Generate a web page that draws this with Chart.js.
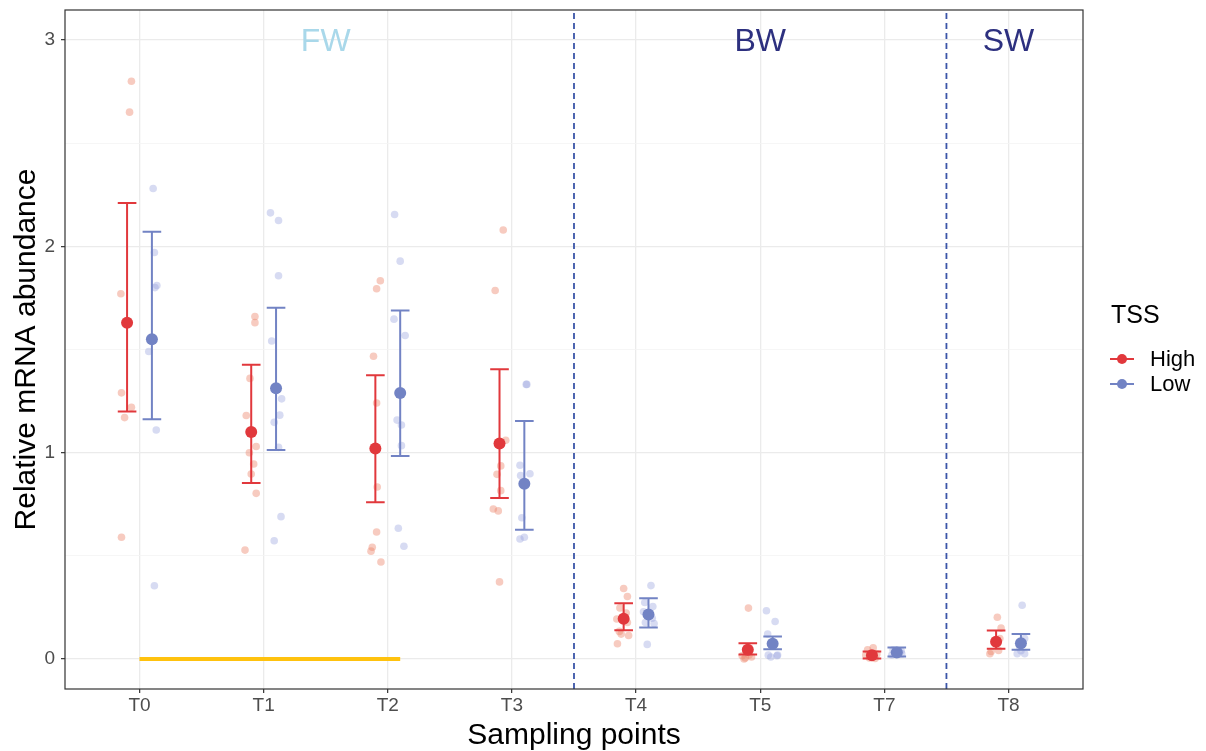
<!DOCTYPE html>
<html>
<head>
<meta charset="utf-8">
<script src="https://cdn.jsdelivr.net/npm/chart.js@4.4.1/dist/chart.umd.min.js"></script>
<style>
  html, body { margin: 0; padding: 0; background: #fff; }
  #wrap { width: 1206px; height: 751px; }
</style>
</head>
<body>
<div id="wrap"><canvas id="chart" width="1206" height="751"></canvas></div>
<script>
// ---- data ----
const categories = ['T0', 'T1', 'T2', 'T3', 'T4', 'T5', 'T7', 'T8'];
const groups = ['High', 'Low'];

const highMean  = [1.63, 1.10, 1.02, 1.045, 0.195, 0.045, 0.019, 0.084];
const highLower = [1.20, 0.853, 0.76, 0.781, 0.140, 0.022, 0.003, 0.050];
const highUpper = [2.21, 1.426, 1.375, 1.404, 0.271, 0.077, 0.037, 0.138];

const lowMean  = [1.55, 1.312, 1.289, 0.85, 0.216, 0.074, 0.032, 0.077];
const lowLower = [1.162, 1.013, 0.984, 0.627, 0.153, 0.048, 0.013, 0.045];
const lowUpper = [2.07, 1.702, 1.689, 1.153, 0.295, 0.109, 0.056, 0.121];

// individual samples, per sampling point
const highRaw = [
    [2.80, 2.65, 1.77, 1.29, 1.22, 1.17, 0.59],
    [1.66, 1.63, 1.36, 1.18, 1.10, 1.03, 1.00, 0.945, 0.897, 0.803, 0.528],
    [1.833, 1.794, 1.467, 1.241, 0.834, 0.616, 0.542, 0.523, 0.47],
    [2.079, 1.786, 1.06, 0.936, 0.895, 0.816, 0.727, 0.718, 0.374],
    [0.342, 0.303, 0.248, 0.223, 0.194, 0.177, 0.134, 0.114, 0.121, 0.074],
    [0.247, 0.02, 0.016, 0.01, 0.005, 0.0],
    [0.055, 0.045, 0.025, 0.02, 0.01, 0.005, 0.003],
    [0.203, 0.15, 0.1, 0.042, 0.037, 0.026]
];
const highJitter = [
    [0.035, 0.02, -0.05, -0.045, 0.035, -0.02, -0.045],
    [0.03, 0.03, -0.01, -0.04, 0, 0.04, -0.015, 0.02, 0, 0.04, -0.05],
    [0.04, 0.01, -0.015, 0.01, 0.015, 0.01, -0.025, -0.035, 0.045],
    [0.03, -0.035, 0.05, 0.01, -0.02, 0.01, -0.05, -0.01, 0],
    [0, 0.03, -0.03, 0.02, -0.055, 0.03, -0.035, 0.04, -0.02, -0.05],
    [0.005, 0.01, -0.045, 0.03, -0.02, -0.03],
    [0.01, -0.035, 0.04, -0.05, 0, -0.02, 0.025],
    [0.01, 0.04, 0.03, 0.02, -0.04, -0.05]
];
const lowRaw = [
    [2.28, 1.97, 1.81, 1.80, 1.49, 1.11, 0.355],
    [2.162, 2.125, 1.857, 1.541, 1.261, 1.182, 1.147, 1.026, 0.69, 0.573],
    [2.154, 1.928, 1.647, 1.568, 1.158, 1.134, 1.034, 0.634, 0.547],
    [1.331, 1.331, 0.939, 0.898, 0.889, 0.685, 0.59, 0.582],
    [0.356, 0.274, 0.255, 0.229, 0.198, 0.177, 0.172, 0.071],
    [0.234, 0.182, 0.121, 0.02, 0.019, 0.016, 0.01],
    [0.045, 0.04, 0.035, 0.03, 0.025, 0.02],
    [0.261, 0.1, 0.061, 0.04, 0.026, 0.026]
];
const lowJitter = [
    [0.01, 0.02, 0.04, 0.025, -0.025, 0.035, 0.02],
    [-0.045, 0.02, 0.02, -0.035, 0.045, 0.03, -0.015, 0.02, 0.04, -0.015],
    [-0.045, 0, -0.05, 0.04, -0.025, 0.01, 0.01, -0.015, 0.03],
    [0.015, 0.02, -0.035, 0.045, -0.03, -0.02, 0, -0.035],
    [0.02, -0.03, 0.035, -0.04, 0.03, -0.025, 0.045, -0.01],
    [-0.05, 0.02, -0.04, 0.04, -0.035, 0.035, -0.015],
    [-0.03, 0.035, 0.02, -0.01, 0.04, -0.04],
    [0.01, 0.03, -0.01, 0, -0.03, 0.03]
];

// water zones: first / last sampling point index
const zoneNames = ['FW', 'BW', 'SW'];
const zoneFirst = [0, 4, 7];
const zoneLast  = [3, 6, 7];
const zoneColors = ['#A9D8EA', '#2D307F', '#2D307F'];

// yellow bar at y = 0
const barFrom = 0;
const barTo = 2.1;

const yTicks = [0, 1, 2, 3];

// ---- style ----
const FONT = "'Liberation Sans', Arial, sans-serif";
const RED = '#E1383C';
const BLUE = '#7283C4';
const Y_MIN = -0.145, Y_MAX = 3.145;
const X_MIN = -0.6, X_MAX = categories.length - 0.4;
const DODGE = 0.1;
const CAP = 0.075;

function rawPoints(raw, jitter, shift) {
    const pts = [];
    raw.forEach((vals, i) => vals.forEach((v, k) => pts.push({ x: i + shift + jitter[i][k], y: v })));
    return pts;
}

function meanPoints(means, shift) {
    return means.map((m, i) => ({ x: i + shift, y: m }));
}

function errorBars(lower, upper, shift) {
    const pts = [];
    lower.forEach((lo, i) => {
        const x = i + shift;
        const hi = upper[i];
        pts.push({ x, y: lo }, { x, y: hi }, { x, y: null });
        pts.push({ x: x - CAP, y: hi }, { x: x + CAP, y: hi }, { x, y: null });
        pts.push({ x: x - CAP, y: lo }, { x: x + CAP, y: lo }, { x, y: null });
    });
    return pts;
}

const dividers = [];
zoneLast.slice(0, -1).forEach(last => {
    dividers.push({ x: last + 0.5, y: Y_MIN }, { x: last + 0.5, y: Y_MAX }, { x: last + 0.5, y: null });
});

const overlay = {
    id: 'overlay',
    afterDraw(chart) {
        const { ctx, chartArea, scales } = chart;
        ctx.save();
        // zone labels
        ctx.font = `32px ${FONT}`;
        ctx.textAlign = 'center';
        ctx.textBaseline = 'alphabetic';
        zoneNames.forEach((name, i) => {
            ctx.fillStyle = zoneColors[i];
            const x = scales.x.getPixelForValue((zoneFirst[i] + zoneLast[i]) / 2);
            const y = scales.y.getPixelForValue(3) + 11.5;
            ctx.fillText(name, x, y);
        });

        // panel border
        ctx.strokeStyle = '#333333';
        ctx.lineWidth = 1.2;
        ctx.strokeRect(chartArea.left, chartArea.top, chartArea.right - chartArea.left, chartArea.bottom - chartArea.top);

        // legend
        ctx.fillStyle = '#000';
        ctx.textAlign = 'left';
        ctx.font = `25px ${FONT}`;
        ctx.fillText('TSS', 1111, 323);
        const colors = [RED, BLUE];
        const rows = [359, 384];
        ctx.font = `22px ${FONT}`;
        ctx.textBaseline = 'middle';
        groups.forEach((g, i) => {
            ctx.strokeStyle = colors[i];
            ctx.lineWidth = 2;
            ctx.beginPath();
            ctx.moveTo(1110, rows[i]);
            ctx.lineTo(1134, rows[i]);
            ctx.stroke();
            ctx.fillStyle = colors[i];
            ctx.beginPath();
            ctx.arc(1122, rows[i], 5, 0, Math.PI * 2);
            ctx.fill();
            ctx.fillStyle = '#000';
            ctx.fillText(g, 1150, rows[i] + 1);
        });
        ctx.restore();
    }
};

new Chart(document.getElementById('chart'), {
    type: 'scatter',
    data: {
        datasets: [
            {
                label: 'High mean', data: meanPoints(highMean, -DODGE), order: 0,
                pointRadius: 6, backgroundColor: RED, borderWidth: 0
            },
            {
                label: 'Low mean', data: meanPoints(lowMean, DODGE), order: 0,
                pointRadius: 6, backgroundColor: BLUE, borderWidth: 0
            },
            {
                type: 'line', label: 'High se', data: errorBars(highLower, highUpper, -DODGE), order: 1,
                borderColor: RED, borderWidth: 2, pointRadius: 0, spanGaps: false, showLine: true
            },
            {
                type: 'line', label: 'Low se', data: errorBars(lowLower, lowUpper, DODGE), order: 1,
                borderColor: BLUE, borderWidth: 2, pointRadius: 0, spanGaps: false, showLine: true
            },
            {
                label: 'High raw', data: rawPoints(highRaw, highJitter, -DODGE), order: 2,
                pointRadius: 3.8, backgroundColor: 'rgba(236,130,105,0.42)', borderWidth: 0
            },
            {
                label: 'Low raw', data: rawPoints(lowRaw, lowJitter, DODGE), order: 2,
                pointRadius: 3.8, backgroundColor: 'rgba(150,160,220,0.38)', borderWidth: 0
            },
            {
                type: 'line', label: 'bar', data: [{ x: barFrom, y: 0 }, { x: barTo, y: 0 }], order: 3,
                borderColor: '#FFC20E', borderWidth: 4, pointRadius: 0, borderCapStyle: 'butt', showLine: true
            },
            {
                type: 'line', label: 'zones', data: dividers, order: 4,
                borderColor: '#3B55A8', borderWidth: 1.8, borderDash: [6, 4], pointRadius: 0,
                spanGaps: false, showLine: true
            }
        ]
    },
    options: {
        responsive: false,
        animation: false,
        devicePixelRatio: 1,
        layout: { padding: { left: 0, right: 123, top: 10, bottom: 0 } },
        plugins: {
            legend: { display: false },
            tooltip: { enabled: false }
        },
        scales: {
            x: {
                type: 'linear',
                min: X_MIN,
                max: X_MAX,
                afterFit: s => { s.height = 62; s.paddingLeft = 0; s.paddingRight = 0; },
                ticks: {
                    stepSize: 1,
                    includeBounds: false,
                    autoSkip: false,
                    maxRotation: 0,
                    padding: 1,
                    color: '#4D4D4D',
                    font: { family: FONT, size: 19 },
                    callback: v => categories[v] ?? ''
                },
                grid: { color: '#EBEBEB', lineWidth: 1.3, tickLength: 4, tickColor: '#333333', tickWidth: 1.2 },
                border: { display: false },
                title: {
                    display: true, text: 'Sampling points', color: '#000',
                    font: { family: FONT, size: 30, lineHeight: 1.0 }, padding: { top: 0, bottom: 0 }
                }
            },
            y: {
                min: Y_MIN,
                max: Y_MAX,
                afterFit: s => { s.width = 65; s.paddingTop = 0; s.paddingBottom = 0; },
                ticks: {
                    stepSize: 0.5,
                    includeBounds: false,
                    padding: 6,
                    color: '#4D4D4D',
                    font: { family: FONT, size: 19 },
                    callback: v => yTicks.includes(v) ? String(v) : ''
                },
                grid: {
                    color: c => yTicks.includes(c.tick.value) ? '#EBEBEB' : '#F4F4F4',
                    lineWidth: c => yTicks.includes(c.tick.value) ? 1.3 : 0.8,
                    tickLength: 4,
                    tickColor: c => yTicks.includes(c.tick.value) ? '#333333' : 'rgba(0,0,0,0)',
                    tickWidth: 1.2
                },
                border: { display: false },
                title: {
                    display: true, text: 'Relative mRNA abundance', color: '#000',
                    font: { family: FONT, size: 30, lineHeight: 1.2 }, padding: { top: 9, bottom: 0 }
                }
            }
        }
    },
    plugins: [overlay]
});
</script>
</body>
</html>
